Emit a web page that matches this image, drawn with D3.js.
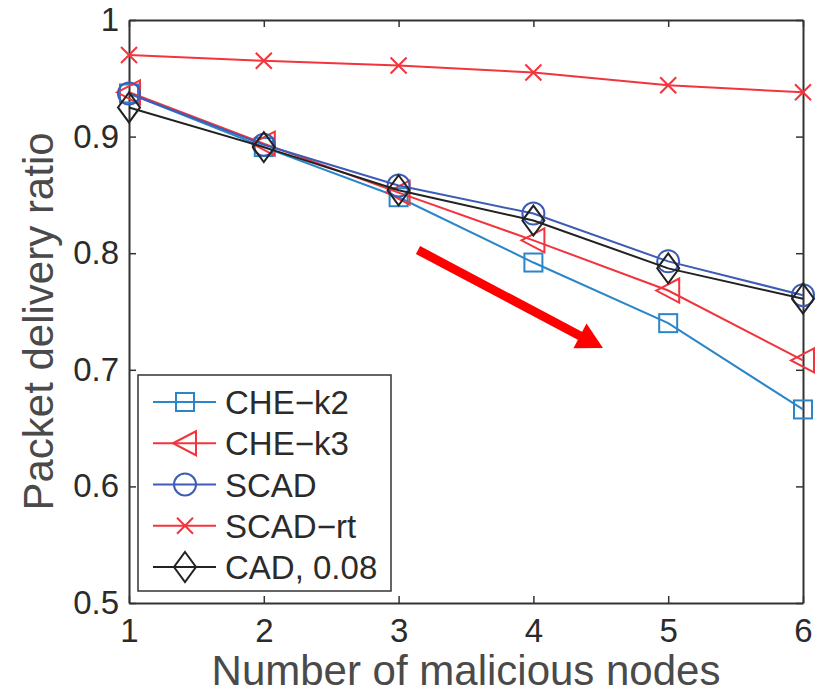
<!DOCTYPE html>
<html>
<head>
<meta charset="utf-8">
<script src="https://cdn.jsdelivr.net/npm/d3@7"></script>
<style>
  html, body { margin: 0; padding: 0; background: #fff; }
  svg { display: block; font-family: "Liberation Sans", Arial, Helvetica, sans-serif; }
</style>
</head>
<body>
<svg id="chart" width="821" height="695"></svg>
<script>
// ---- data ----
const nodes = [1, 2, 3, 4, 5, 6];
const cheK2 = [0.937, 0.891, 0.848, 0.792, 0.740, 0.666];
const cheK3 = [0.938, 0.894, 0.852, 0.811, 0.768, 0.708];
const scad = [0.937, 0.893, 0.858, 0.834, 0.793, 0.764];
const scadRt = [0.970, 0.965, 0.961, 0.955, 0.944, 0.938];
const cad008 = [0.925, 0.891, 0.854, 0.828, 0.787, 0.761];
const seriesNames = ["CHE\u2212k2", "CHE\u2212k3", "SCAD", "SCAD\u2212rt", "CAD, 0.08"];
const xTicks = [1, 2, 3, 4, 5, 6];
const yTicks = [0.5, 0.6, 0.7, 0.8, 0.9, 1];
const yTickLabels = ["0.5", "0.6", "0.7", "0.8", "0.9", "1"];
const arrowFrom = [3.144, 0.8027];
const arrowTo = [4.516, 0.7187];

const series = [
  { name: seriesNames[0], values: cheK2, color: "#2a86c8", marker: "square" },
  { name: seriesNames[1], values: cheK3, color: "#f2343c", marker: "triLeft" },
  { name: seriesNames[2], values: scad, color: "#3e5cb6", marker: "circle" },
  { name: seriesNames[3], values: scadRt, color: "#f2343c", marker: "cross" },
  { name: seriesNames[4], values: cad008, color: "#222222", marker: "diamond" }
];

const svg = d3.select("#chart");
const mLeft = 129, mRight = 803, mTop = 20, mBottom = 603;
const x = d3.scaleLinear().domain([1, 6]).range([mLeft, mRight]);
const y = d3.scaleLinear().domain([0.5, 1]).range([mBottom, mTop]);
const axisColor = "#333";
const textColor = "#2b2b2b";

function drawMarker(g, type, cx, cy, color) {
  const sw = 2;
  if (type === "square") {
    g.append("rect").attr("x", cx - 9).attr("y", cy - 9).attr("width", 18).attr("height", 18)
      .attr("fill", "none").attr("stroke", color).attr("stroke-width", sw);
  } else if (type === "circle") {
    g.append("circle").attr("cx", cx).attr("cy", cy).attr("r", 11)
      .attr("fill", "none").attr("stroke", color).attr("stroke-width", sw);
  } else if (type === "triLeft") {
    const p = [[cx - 12, cy], [cx + 11, cy - 12], [cx + 11, cy + 12]];
    g.append("path").attr("d", d3.line()(p) + "Z")
      .attr("fill", "none").attr("stroke", color).attr("stroke-width", sw);
  } else if (type === "diamond") {
    const p = [[cx, cy - 15], [cx + 11, cy], [cx, cy + 15], [cx - 11, cy]];
    g.append("path").attr("d", d3.line()(p) + "Z")
      .attr("fill", "none").attr("stroke", color).attr("stroke-width", sw);
  } else if (type === "cross") {
    const s = 8;
    g.append("path").attr("d", `M${cx - s},${cy - s}L${cx + s},${cy + s}M${cx - s},${cy + s}L${cx + s},${cy - s}`)
      .attr("fill", "none").attr("stroke", color).attr("stroke-width", sw);
  }
}

// axes box with inward ticks
const axG = svg.append("g");
const axBottom = d3.axisBottom(x).tickValues(xTicks).tickSize(-7).tickSizeOuter(0).tickPadding(16).tickFormat(d3.format("d"));
const axTop = d3.axisTop(x).tickValues(xTicks).tickSize(-7).tickSizeOuter(0).tickFormat("");
const axLeft = d3.axisLeft(y).tickValues(yTicks).tickSize(-7).tickSizeOuter(0).tickPadding(10).tickFormat((d, i) => yTickLabels[i]);
const axRight = d3.axisRight(y).tickValues(yTicks).tickSize(-7).tickSizeOuter(0).tickFormat("");

function styleAxis(sel) {
  sel.select(".domain").attr("stroke", axisColor).attr("stroke-width", 2);
  sel.selectAll(".tick line").attr("stroke", axisColor).attr("stroke-width", 1.5);
  sel.selectAll(".tick text").attr("fill", textColor).style("font-size", "33px")
    .style("font-family", '"Liberation Sans", Arial, sans-serif');
}
axG.append("g").attr("transform", `translate(0,${mBottom})`).call(axBottom).call(styleAxis);
axG.append("g").attr("transform", `translate(0,${mTop})`).call(axTop).call(styleAxis);
axG.append("g").attr("transform", `translate(${mLeft},0)`).call(axLeft).call(styleAxis);
axG.append("g").attr("transform", `translate(${mRight},0)`).call(axRight).call(styleAxis);

// axis labels
svg.append("text").attr("x", (mLeft + mRight) / 2).attr("y", 685).attr("text-anchor", "middle")
  .attr("fill", "#4a4a4a").style("font-size", "42px").text("Number of malicious nodes");
svg.append("text").attr("transform", `translate(53,${(mTop + mBottom) / 2 + 10}) rotate(-90)`)
  .attr("text-anchor", "middle").attr("fill", "#4a4a4a").style("font-size", "42px").text("Packet delivery ratio");

// series
const line = d3.line().x((d, i) => x(nodes[i])).y(d => y(d));
const plotG = svg.append("g");
series.forEach(s => {
  const g = plotG.append("g");
  g.append("path").attr("d", line(s.values)).attr("fill", "none")
    .attr("stroke", s.color).attr("stroke-width", 2);
  s.values.forEach((v, i) => drawMarker(g, s.marker, x(nodes[i]), y(v), s.color));
});

// red arrow annotation
(function() {
  const x0 = x(arrowFrom[0]), y0 = y(arrowFrom[1]);
  const x1 = x(arrowTo[0]), y1 = y(arrowTo[1]);
  const dx = x1 - x0, dy = y1 - y0, len = Math.hypot(dx, dy);
  const ux = dx / len, uy = dy / len;
  const headL = 26, headW = 14;
  const bx = x1 - ux * headL, by = y1 - uy * headL;
  svg.append("line").attr("x1", x0).attr("y1", y0).attr("x2", bx + ux * 2).attr("y2", by + uy * 2)
    .attr("stroke", "#ff0000").attr("stroke-width", 9);
  svg.append("path").attr("d", d3.line()([[x1, y1], [bx - uy * headW, by + ux * headW], [bx + uy * headW, by - ux * headW]]) + "Z")
    .attr("fill", "#ff0000");
})();

// legend
const leg = svg.append("g");
leg.append("rect").attr("x", 138).attr("y", 375).attr("width", 253).attr("height", 216)
  .attr("fill", "#fff").attr("stroke", "#333").attr("stroke-width", 1.5);
const rowY = d3.scaleLinear().domain([0, 4]).range([402, 567]);
series.forEach((s, i) => {
  const yy = rowY(i);
  leg.append("line").attr("x1", 153).attr("x2", 216).attr("y1", yy).attr("y2", yy)
    .attr("stroke", s.color).attr("stroke-width", 2);
  drawMarker(leg, s.marker, 185, yy, s.color);
  leg.append("text").attr("x", 225).attr("y", yy + 12).attr("fill", textColor)
    .style("font-size", "33px").text(s.name);
});
</script>
</body>
</html>
